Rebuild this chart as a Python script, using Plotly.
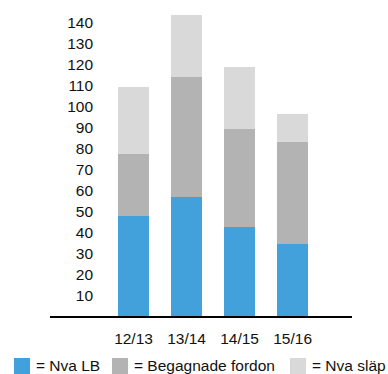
"""Stacked bar chart: vehicles per season."""
import plotly.graph_objects as go

seasons = ["12/13", "13/14", "14/15", "15/16"]
nya_lb = [48, 57, 42.5, 34.5]
begagnade = [29.5, 57, 47, 48.5]
nya_slap = [32, 30, 29.5, 13.5]
series_names = ["Nva LB", "Begagnade fordon", "Nva släp"]
y_ticks = [10, 20, 30, 40, 50, 60, 70, 80, 90, 100, 110, 120, 130, 140]

colors = ["#42a1db", "#b3b3b3", "#d9d9d9"]
FONT = "Liberation Sans, Arial, Helvetica, sans-serif"

W, H = 388, 374
L, R, T, B = 50, 36, 2, 58


def px_x(px):
    return (px - L) / (W - L - R)


def px_y(py):
    return (H - B - py) / (H - T - B)


fig = go.Figure()
for name, vals, col in zip(series_names, [nya_lb, begagnade, nya_slap], colors):
    fig.add_trace(go.Bar(
        x=seasons, y=vals, name=name, width=0.585,
        marker=dict(color=col, line=dict(width=0)),
    ))

# hand-made legend along the bottom edge
legend_x = [14, 112, 290]
for name, col, x0 in zip(series_names, colors, legend_x):
    fig.add_shape(type="rect", xref="paper", yref="paper",
                  x0=px_x(x0), x1=px_x(x0 + 16), y0=px_y(380), y1=px_y(358),
                  fillcolor=col, line_width=0)
    fig.add_annotation(xref="paper", yref="paper", x=px_x(x0 + 20), y=px_y(365),
                       text="= " + name, showarrow=False, xanchor="left",
                       yanchor="middle", font=dict(size=15.5, color="#111"))

fig.update_layout(
    width=W, height=H,
    margin=dict(l=L, r=R, t=T, b=B, autoexpand=False),
    barmode="stack",
    showlegend=False,
    plot_bgcolor="white", paper_bgcolor="white",
    font=dict(family=FONT, size=15.5, color="#111"),
    xaxis=dict(type="category", range=[-1.575, 4.12], showline=True,
               linecolor="black", linewidth=2, showgrid=False, ticks="",
               ticklabelstandoff=7, automargin=False),
    yaxis=dict(range=[0, 150], tickvals=y_ticks, anchor="free", position=0.156,
               showline=False, showgrid=False, zeroline=False, ticks="",
               ticklabelstandoff=4, automargin=False),
)

fig.write_html("out.html", config={"displayModeBar": False},
               post_script="document.body.style.margin='0';")
